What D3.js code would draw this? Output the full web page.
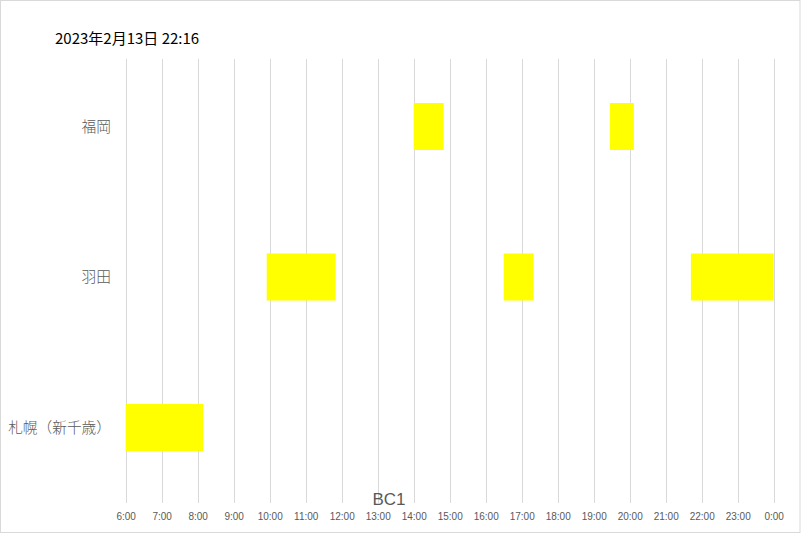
<!DOCTYPE html>
<html>
<head>
<meta charset="utf-8">
<script src="https://cdn.jsdelivr.net/npm/d3@7"></script>
<style>
  html, body { margin: 0; padding: 0; background: #fff; }
  svg { display: block; }
</style>
</head>
<body>
<script>
// ---- data ----
const chartTitle = "2023年2月13日 22:16";
const axisTitle = "BC1";
const categories = ["福岡", "羽田", "札幌（新千歳）"];
const barCategory = ["福岡", "福岡", "羽田", "羽田", "羽田", "札幌（新千歳）"];
const barStart = ["14:00", "19:27", "9:55", "16:30", "21:42", "6:00"];
const barEnd   = ["14:50", "20:07", "11:50", "17:20", "24:00", "8:09"];
const tickHours = [6, 7, 8, 9, 10, 11, 12, 13, 14, 15, 16, 17, 18, 19, 20, 21, 22, 23, 24];
const tickLabels = ["6:00", "7:00", "8:00", "9:00", "10:00", "11:00", "12:00", "13:00", "14:00", "15:00",
                    "16:00", "17:00", "18:00", "19:00", "20:00", "21:00", "22:00", "23:00", "0:00"];

const toHours = s => { const [h, m] = s.split(":").map(Number); return h + m / 60; };
const bars = barCategory.map((c, i) => ({ cat: c, start: toHours(barStart[i]), end: toHours(barEnd[i]) }));

// ---- layout ----
const W = 801, H = 534;
const svg = d3.select("body").append("svg").attr("width", W).attr("height", H);

svg.append("rect").attr("x", 0.5).attr("y", 0.5).attr("width", W - 1.5).attr("height", H - 2)
  .attr("fill", "#fff").attr("stroke", "#d9d9d9").attr("stroke-width", 1);

const x = d3.scaleLinear().domain([6, 24]).range([125.7, 773.7]);
const y = d3.scalePoint().domain(categories).range([51.25, 502.75]).padding(0.5);
const barH = 47;
const gridTop = 59, gridBottom = 503;

// gridlines
svg.append("g").selectAll("line").data(tickHours).join("line")
  .attr("x1", d => Math.round(x(d)) + 0.5).attr("x2", d => Math.round(x(d)) + 0.5)
  .attr("y1", gridTop).attr("y2", gridBottom)
  .attr("stroke", "#d9d9d9").attr("stroke-width", 1);

// bars
svg.append("g").selectAll("rect").data(bars).join("rect")
  .attr("x", d => x(d.start)).attr("width", d => x(d.end) - x(d.start))
  .attr("y", d => y(d.cat) - barH / 2).attr("height", barH)
  .attr("fill", "#ffff00");

// x axis
const xAxis = d3.axisBottom(x).tickValues(tickHours)
  .tickFormat((d, i) => tickLabels[i]).tickSize(0).tickPadding(0);
const gx = svg.append("g").attr("transform", "translate(0,513)").call(xAxis);
gx.select(".domain").remove();
gx.selectAll("text").attr("font-family", "'Liberation Sans', Arial, sans-serif")
  .attr("font-size", 10).attr("fill", "#595959").attr("dy", "0.71em");

// y axis labels
const yAxis = d3.axisLeft(y).tickSize(0).tickPadding(0);
const gy = svg.append("g").attr("transform", "translate(111,0)").call(yAxis);
gy.select(".domain").remove();
gy.selectAll("text").attr("font-family", "'Noto Sans CJK JP', sans-serif")
  .attr("font-size", 14.7).attr("font-weight", 300).attr("fill", "#595959");

// axis title
svg.append("text").attr("x", 389).attr("y", 505).attr("text-anchor", "middle")
  .attr("font-family", "'Liberation Sans', Arial, sans-serif").attr("font-size", 17)
  .attr("fill", "#595959").text(axisTitle);

// chart title
svg.append("text").attr("x", 55).attr("y", 44)
  .attr("font-family", "'Noto Sans CJK JP', sans-serif").attr("font-size", 15)
  .attr("fill", "#000").text(chartTitle);
</script>
</body>
</html>
